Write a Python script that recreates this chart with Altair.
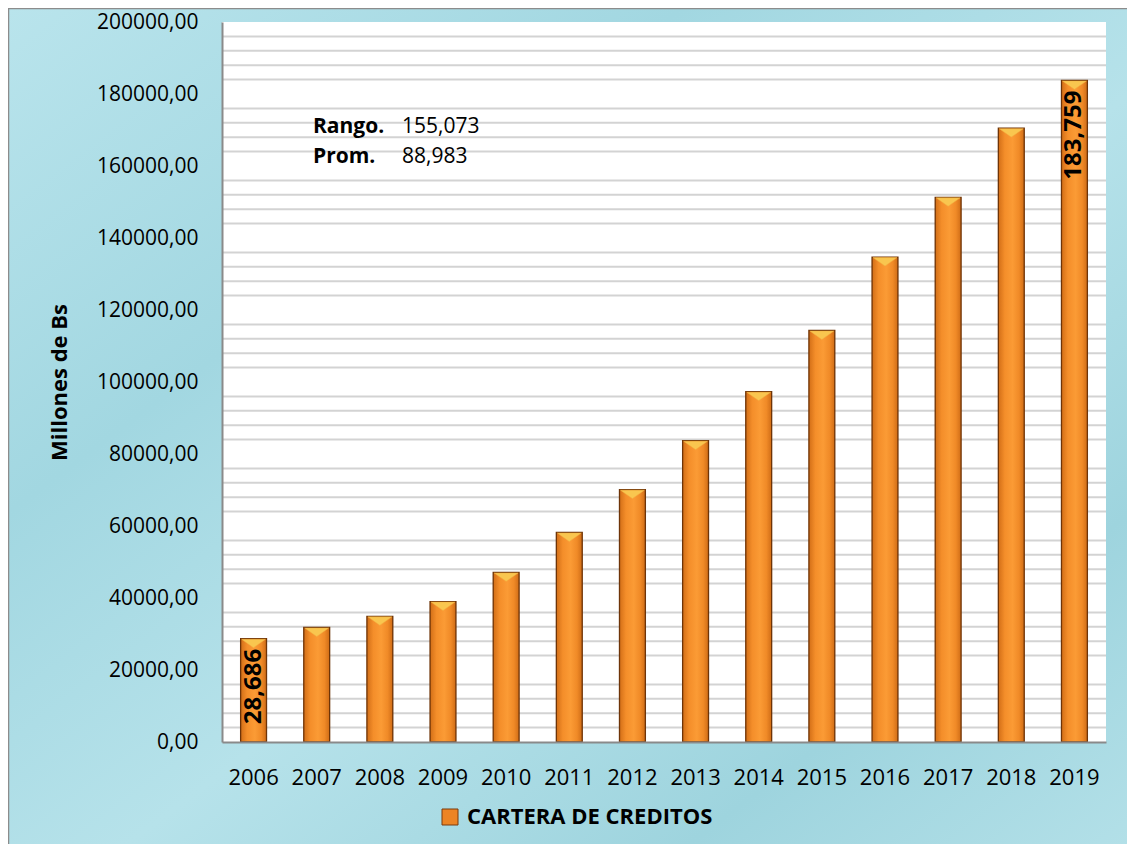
import altair as alt
import pandas as pd

# ---- data ----
years = ["2006", "2007", "2008", "2009", "2010", "2011", "2012",
         "2013", "2014", "2015", "2016", "2017", "2018", "2019"]
cartera = [28686, 31800, 34900, 39000, 47100, 58200, 70100,
           83700, 97300, 114300, 134700, 151300, 170500, 183759]
bar_labels = ["28,686", "", "", "", "", "", "", "", "", "", "", "", "", "183,759"]
series_name = "CARTERA DE CREDITOS"
y_title = "Millones de Bs"
ann_names = ["Rango.", "Prom."]
ann_values = ["155,073", "88,983"]
y_max = 200000
y_label_step = 20000
grid_step = 4000

df = pd.DataFrame({"year": years, "value": cartera, "label": bar_labels,
                   "serie": [series_name] * len(years)})
grid_df = pd.DataFrame({"g": [v for v in range(grid_step, y_max + 1, grid_step)
                              if v % y_label_step != 0]})

FONT = "Open Sans"
W, H = 884, 720
PAD = {"left": 214, "top": 14, "right": 21, "bottom": 102}

yscale = alt.Scale(domain=[0, y_max], nice=False, zero=True)
xenc = alt.X("year:N", sort=years,
             scale=alt.Scale(paddingInner=0.59, paddingOuter=0.295),
             axis=alt.Axis(title=None, labelAngle=0, ticks=False, labelFontSize=22,
                           labelPadding=25, labelColor="#000000", zindex=1,
                           domainColor="#8a8a8a", domainWidth=2))
yaxis = alt.Axis(title=y_title, values=list(range(0, y_max + 1, y_label_step)),
                 labelExpr="replace(format(datum.value, '.2f'), '.', ',')",
                 grid=False, ticks=False, labelFontSize=21, labelPadding=24,
                 labelColor="#000000", domainColor="#8a8a8a", domainWidth=2,
                 zindex=1,
                 titleFontSize=22, titleFontWeight="bold", titleAngle=270,
                 titleX=-163, titleY=360, titleAlign="center",
                 titleBaseline="middle", titleColor="#000000")
yenc = alt.Y("value:Q", scale=yscale, axis=yaxis)

# background panel (whole chart) with border
bg_grad = alt.Gradient(gradient="linear", x1=0, y1=0, x2=1, y2=1, stops=[
    alt.GradientStop(color="#B9E4EC", offset=0),
    alt.GradientStop(color="#A2D7E1", offset=0.3),
    alt.GradientStop(color="#B6E2EA", offset=0.55),
    alt.GradientStop(color="#9ED4DE", offset=0.8),
    alt.GradientStop(color="#B3E0E8", offset=1)])
bg = alt.Chart(pd.DataFrame({"k": [0]})).mark_rect(
    fill=bg_grad, stroke="#8c8c8c", strokeWidth=1.5).encode(
    x=alt.value(-PAD["left"] + 0.5), x2=alt.value(W + PAD["right"] + 5),
    y=alt.value(-PAD["top"] + 0.5), y2=alt.value(H + PAD["bottom"] + 5))

plot_bg = alt.Chart(pd.DataFrame({"k": [0]})).mark_rect(fill="#ffffff").encode(
    x=alt.value(0), x2=alt.value(W), y=alt.value(0), y2=alt.value(H))

grid = alt.Chart(grid_df).mark_rule(color="#D3D3D3", strokeWidth=2).encode(
    y=alt.Y("g:Q", scale=yscale, axis=yaxis))

legend_bars = alt.Chart(df).mark_bar().encode(
    x=xenc, y=yenc,
    color=alt.Color("serie:N", scale=alt.Scale(domain=[series_name], range=["#EC8424"]),
                    legend=alt.Legend(title=None, orient="none", legendX=217, legendY=784,
                                      symbolType="square", symbolSize=256,
                                      symbolStrokeColor="#7A3B0C", symbolStrokeWidth=1,
                                      labelFontSize=22, labelFontWeight="bold",
                                      labelLimit=500,
                                      labelColor="#000000", labelOffset=6, padding=0)))

bar_grad = alt.Gradient(gradient="linear", x1=0, y1=0, x2=1, y2=0, stops=[
    alt.GradientStop(color="#D26E17", offset=0),
    alt.GradientStop(color="#F48E2A", offset=0.25),
    alt.GradientStop(color="#FB9B35", offset=0.55),
    alt.GradientStop(color="#F08A27", offset=0.8),
    alt.GradientStop(color="#CF6C16", offset=1)])
bars = alt.Chart(df).mark_bar(fill=bar_grad, stroke="#6E3408", strokeWidth=1.3).encode(
    x=xenc, y=yenc)

bevel = alt.Chart(df).mark_point(
    shape="M -1 -1 L 1 -1 L 0 -0.3 Z", filled=True, size=576, opacity=1,
    fill="#F9C64F", stroke="#F3B043", strokeWidth=0.5, yOffset=12.5).encode(
    x=xenc, y=yenc)

labels = alt.Chart(df).mark_text(
    angle=270, align="right", baseline="middle", fontSize=24, fontWeight="bold",
    color="#000000", yOffset=10, font=FONT).encode(
    x=xenc, y=yenc, text="label:N")

ann_layers = []
ann_y = [105, 135]
for i in range(len(ann_names)):
    d = pd.DataFrame({"n": [ann_names[i]], "v": [ann_values[i]]})
    ann_layers.append(alt.Chart(d).mark_text(
        align="left", baseline="middle", fontSize=21, fontWeight="bold",
        color="#000000", font=FONT).encode(
        x=alt.value(91), y=alt.value(ann_y[i]), text="n:N"))
    ann_layers.append(alt.Chart(d).mark_text(
        align="left", baseline="middle", fontSize=21, color="#000000", font=FONT).encode(
        x=alt.value(180), y=alt.value(ann_y[i]), text="v:N"))

chart = alt.layer(bg, plot_bg, grid, legend_bars, bars, bevel, labels, *ann_layers).properties(
    width=W, height=H, padding=PAD,
    autosize=alt.AutoSizeParams(type="none"),
    background="#AEDDE6",
).configure(font=FONT).configure_view(stroke=None, fill="#ffffff")

chart.save("out.html", embed_options={"renderer": "svg", "actions": False})
